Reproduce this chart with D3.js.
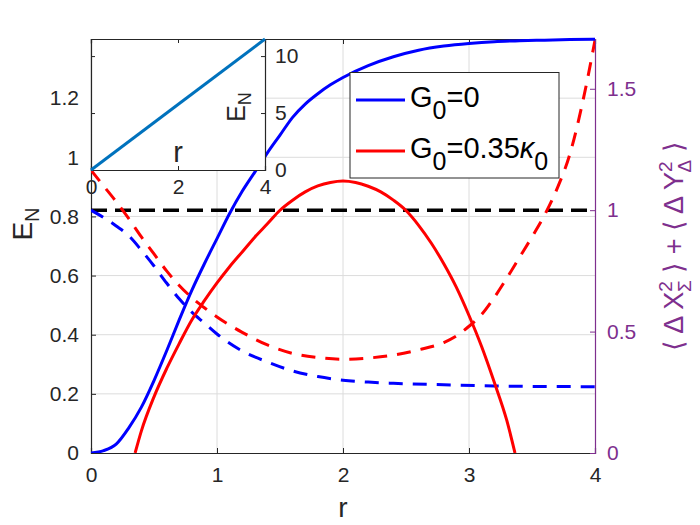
<!DOCTYPE html>
<html><head><meta charset="utf-8">
<script src="https://cdn.jsdelivr.net/npm/d3@7"></script>
<style>body{margin:0;background:#fff} svg text{font-family:"Liberation Sans",Arial,Helvetica,sans-serif}</style>
</head><body><svg id="c" width="700" height="525"></svg>
<script>
// ---- data ----
const rBlue = [0,0.1,0.2,0.3,0.4,0.5,0.6,0.7,0.8,0.9,1.0,1.1,1.2,1.3,1.4,1.5,1.6,1.7,1.8,1.9,2.0,2.2,2.4,2.6,2.8,3.0,3.2,3.4,3.6,3.8,4.0];
const enBlue = [0,0.008,0.03,0.085,0.155,0.245,0.345,0.45,0.55,0.64,0.725,0.81,0.885,0.95,1.015,1.075,1.135,1.18,1.215,1.245,1.27,1.31,1.34,1.362,1.376,1.385,1.391,1.394,1.396,1.398,1.399];
const rRed = [0.35,0.4,0.5,0.6,0.7,0.8,0.9,1.0,1.1,1.2,1.3,1.4,1.5,1.6,1.7,1.8,1.9,2.0,2.1,2.2,2.3,2.4,2.5,2.6,2.7,2.8,2.9,3.0,3.1,3.2,3.3,3.365];
const enRed = [0,0.075,0.19,0.285,0.37,0.45,0.515,0.575,0.63,0.68,0.73,0.775,0.821,0.855,0.883,0.903,0.915,0.92,0.915,0.902,0.883,0.855,0.82,0.77,0.71,0.64,0.56,0.465,0.36,0.24,0.11,0];
const rSqBlue = [0,0.1,0.2,0.3,0.4,0.5,0.6,0.7,0.8,0.9,1.0,1.2,1.4,1.6,1.8,2.0,2.2,2.4,2.8,3.2,3.6,4.0];
const sqBlue = [1.0,0.97,0.935,0.895,0.835,0.77,0.70,0.635,0.58,0.535,0.49,0.42,0.375,0.338,0.315,0.30,0.292,0.287,0.281,0.276,0.274,0.273];
const rSqRed = [0,0.1,0.2,0.3,0.4,0.5,0.6,0.7,0.8,0.9,1.0,1.2,1.4,1.6,1.8,2.0,2.2,2.4,2.6,2.8,2.9,3.0,3.1,3.2,3.3,3.4,3.5,3.6,3.7,3.8,3.9,4.0];
const sqRed = [1.165,1.10,1.035,0.965,0.89,0.82,0.75,0.69,0.64,0.598,0.56,0.497,0.445,0.41,0.393,0.386,0.391,0.403,0.425,0.455,0.482,0.522,0.57,0.64,0.72,0.805,0.89,0.98,1.09,1.23,1.44,1.70];
const rRef = [0,4];
const sqRef = [1,1];
const rInset = [0,2,4];
const enInset = [0,5.75,11.5];
const xTicks = [0,1,2,3,4];
const yLeftTicks = [0,0.2,0.4,0.6,0.8,1,1.2];
const yRightTicks = [0,0.5,1,1.5];
const insetXTicks = [0,2,4];
const insetYTicks = [0,5,10];

// ---- layout ----
const svg = d3.select("#c");
const L=91,R=595,T=39,B=453;
const x = d3.scaleLinear().domain([0,4]).range([L,R]);
const yL = d3.scaleLinear().domain([0,1.4]).range([B,T]);
const yR = d3.scaleLinear().domain([0,1.705]).range([B,T]);
const PURPLE="#7E2F8E";
const FS=21;

svg.append("rect").attr("width",700).attr("height",525).attr("fill","#fff");
svg.append("defs").append("clipPath").attr("id","clip").append("rect")
  .attr("x",L).attr("y",T-2).attr("width",R-L).attr("height",B-T+2);

// grid
const g = svg.append("g");
g.selectAll(".gx").data(xTicks.slice(1,-1)).enter().append("line")
  .attr("x1",d=>x(d)).attr("x2",d=>x(d)).attr("y1",T).attr("y2",B)
  .attr("stroke","#dcdcdc").attr("stroke-width",1);
g.selectAll(".gy").data(yLeftTicks.slice(1)).enter().append("line")
  .attr("x1",L).attr("x2",R).attr("y1",d=>yL(d)).attr("y2",d=>yL(d))
  .attr("stroke","#dcdcdc").attr("stroke-width",1);

// axes
const axB = d3.axisBottom(x).tickValues(xTicks).tickSize(-5).tickPadding(14).tickFormat(d3.format("~g"));
const axT = d3.axisTop(x).tickValues(xTicks).tickSize(-5).tickFormat("");
const axL = d3.axisLeft(yL).tickValues(yLeftTicks).tickSize(-5).tickPadding(12).tickFormat(d3.format("~g"));
const axR = d3.axisRight(yR).tickValues(yRightTicks).tickSize(-5).tickPadding(12).tickFormat(d3.format("~g"));
function style(sel,col){
  sel.selectAll("path").attr("stroke",col).attr("stroke-width",1.2);
  sel.selectAll("line").attr("stroke",col);
  sel.selectAll("text").attr("fill",col).attr("font-size",FS);
}
style(svg.append("g").attr("transform",`translate(0,${B})`).call(axB),"#262626");
style(svg.append("g").attr("transform",`translate(0,${T})`).call(axT),"#262626");
style(svg.append("g").attr("transform",`translate(${L},0)`).call(axL),"#262626");
style(svg.append("g").attr("transform",`translate(${R},0)`).call(axR),PURPLE);

// curves
const plot = svg.append("g").attr("clip-path","url(#clip)");
function draw(rs,vs,ys,col,dash,w){
  const line = d3.line().x(d=>x(d[0])).y(d=>ys(d[1])).curve(d3.curveMonotoneX);
  plot.append("path").datum(rs.map((r,i)=>[r,vs[i]])).attr("d",line)
    .attr("fill","none").attr("stroke",col).attr("stroke-width",w||3)
    .attr("stroke-dasharray",dash||null);
}
draw(rRef,sqRef,yR,"#000","16,8",3.5);
draw(rSqBlue,sqBlue,yR,"#0000FF","14,10");
draw(rSqRed,sqRed,yR,"#FF0000","14,10");
draw(rBlue,enBlue,yL,"#0000FF");
draw(rRed,enRed,yL,"#FF0000");

// axis labels
svg.append("text").attr("x",343).attr("y",517).attr("text-anchor","middle").attr("font-size",28).attr("fill","#262626").text("r");
const el = svg.append("text").attr("transform","translate(32,224) rotate(-90)").attr("text-anchor","middle").attr("font-size",28).attr("fill","#262626");
el.append("tspan").text("E");
el.append("tspan").attr("font-size",20).attr("dy",7).text("N");
const rl = svg.append("text").attr("transform","translate(683,246) rotate(-90)").attr("text-anchor","middle").attr("font-size",27).attr("fill",PURPLE);
rl.append("tspan").text("\u27E8 \u0394 X");
rl.append("tspan").attr("font-size",19).attr("dy",-11).text("2");
rl.append("tspan").attr("font-size",19).attr("dx",-11).attr("dy",19).text("\u03A3");
rl.append("tspan").attr("dy",-8).text(" \u27E9 + \u27E8 \u0394 Y");
rl.append("tspan").attr("font-size",19).attr("dy",-11).text("2");
rl.append("tspan").attr("font-size",19).attr("dx",-11).attr("dy",19).text("\u0394");
rl.append("tspan").attr("dy",-8).text(" \u27E9");

// legend
const lg = svg.append("g");
lg.append("rect").attr("x",350).attr("y",72.5).attr("width",209).attr("height",105.5).attr("fill","#fff").attr("stroke","#262626").attr("stroke-width",1);
const legItems = [{c:"#0000FF",y:100,t:["G","0","=0"]},{c:"#FF0000",y:151,t:["G","0","=0.35","\u03BA","0"]}];
legItems.forEach(it=>{
  lg.append("line").attr("x1",356).attr("x2",405).attr("y1",it.y).attr("y2",it.y).attr("stroke",it.c).attr("stroke-width",3);
  const tx = lg.append("text").attr("x",410).attr("y",it.y+7).attr("font-size",29).attr("fill","#000");
  tx.append("tspan").text("G");
  tx.append("tspan").attr("font-size",25).attr("dy",12).text("0");
  tx.append("tspan").attr("dy",-12).text(it.t[2]);
  if(it.t.length>3){
    tx.append("tspan").attr("font-style","italic").text("\u03BA");
    tx.append("tspan").attr("font-size",25).attr("dy",12).text("0");
  }
});

// inset
const iL=91,iR=265,iT=39,iB=170;
const ix = d3.scaleLinear().domain([0,4]).range([iL,iR]);
const iy = d3.scaleLinear().domain([0,11.5]).range([iB,iT]);
const ig = svg.append("g");
ig.append("rect").attr("x",iL).attr("y",iT).attr("width",iR-iL).attr("height",iB-iT).attr("fill","#fff");
const iaxB = d3.axisBottom(ix).tickValues(insetXTicks).tickSize(-4).tickPadding(9).tickFormat(d3.format("~g"));
const iaxT = d3.axisTop(ix).tickValues(insetXTicks).tickSize(-4).tickFormat("");
const iaxL = d3.axisLeft(iy).tickValues(insetYTicks).tickSize(-4).tickFormat("");
const iaxR = d3.axisRight(iy).tickValues(insetYTicks).tickSize(-4).tickPadding(10).tickFormat(d3.format("~g"));
style(ig.append("g").attr("transform",`translate(0,${iB})`).call(iaxB),"#262626");
style(ig.append("g").attr("transform",`translate(0,${iT})`).call(iaxT),"#262626");
style(ig.append("g").attr("transform",`translate(${iL},0)`).call(iaxL),"#262626");
style(ig.append("g").attr("transform",`translate(${iR},0)`).call(iaxR),"#262626");
ig.append("path").datum(rInset.map((r,i)=>[r,enInset[i]]))
  .attr("d",d3.line().x(d=>ix(d[0])).y(d=>iy(d[1])))
  .attr("fill","none").attr("stroke","#0072BD").attr("stroke-width",3);
ig.append("text").attr("x",178).attr("y",162).attr("text-anchor","middle").attr("font-size",29).attr("fill","#262626").text("r");
const iel = ig.append("text").attr("transform","translate(245,107) rotate(-90)").attr("text-anchor","middle").attr("font-size",25).attr("fill","#262626");
iel.append("tspan").text("E");
iel.append("tspan").attr("font-size",18).attr("dy",6).text("N");
</script></body></html>
